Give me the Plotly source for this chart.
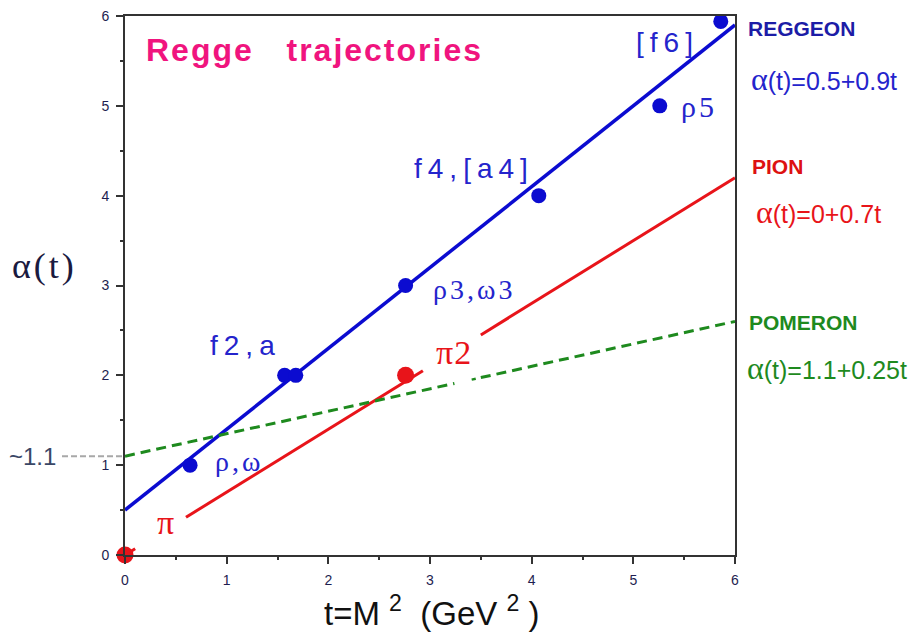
import plotly.graph_objects as go

# Regge trajectories alpha(t) = intercept + slope * t
reggeon = dict(intercept=0.5, slope=0.9)
pion = dict(intercept=0.0, slope=0.7)
pomeron = dict(intercept=1.1, slope=0.25)
t_range = [0.0, 6.0]

# pieces of each trajectory that are drawn (gaps leave room for labels)
pion_pieces = [(0.0, 0.1), (0.6, 2.93), (3.5, 6.0)]
pomeron_pieces = [(0.0, 3.24), (3.5, 6.0)]

# resonances on the Reggeon trajectory
reggeon_m2 = [0.64, 1.57, 1.68, 2.76, 4.07, 5.26, 5.86]
reggeon_spin = [1, 2, 2, 3, 4, 5, 5.94]
# resonances on the pion trajectory
pion_m2 = [0.0, 2.76]
pion_spin = [0, 2]

# particle names: (text, t, alpha)
reggeon_names = [
    ("ρ,ω", 1.12, 1.04),
    ("f2,a", 1.19, 2.33),
    ("ρ3,ω3", 3.43, 2.96),
    ("f4,[a4]", 3.43, 4.30),
    ("ρ5", 5.65, 4.99),
    ("[f6]", 5.34, 5.70),
]
pion_names = [("π", 0.40, 0.36), ("π2", 3.24, 2.25)]

BLUE = "#0b0bd0"
LBLUE = "#2424cc"
NAVY = "#1c1ca6"
RED = "#e8141a"
GREEN = "#1e8a1e"
PINK = "#f0147e"
TICK = "#1e1e50"

SANS = "Arial, Liberation Sans, sans-serif"
SERIF = "Times New Roman, Liberation Serif, serif"


def line_xy(p, pieces):
    xs, ys = [], []
    for a, b in pieces:
        xs += [a, b, None]
        ys += [p["intercept"] + p["slope"] * a, p["intercept"] + p["slope"] * b, None]
    return xs, ys


fig = go.Figure()

x, y = line_xy(reggeon, [tuple(t_range)])
fig.add_trace(go.Scatter(x=x, y=y, mode="lines", line=dict(color=BLUE, width=3.5)))
x, y = line_xy(pion, pion_pieces)
fig.add_trace(go.Scatter(x=x, y=y, mode="lines", line=dict(color=RED, width=3)))
x, y = line_xy(pomeron, pomeron_pieces)
fig.add_trace(go.Scatter(x=x, y=y, mode="lines",
                         line=dict(color=GREEN, width=3, dash="10px,6px")))
# small dot left in the pomeron gap
fig.add_trace(go.Scatter(x=[3.41, 3.45],
                         y=[pomeron["intercept"] + pomeron["slope"] * v for v in (3.41, 3.45)],
                         mode="lines", line=dict(color=GREEN, width=2.5)))

fig.add_trace(go.Scatter(x=reggeon_m2, y=reggeon_spin, mode="markers", cliponaxis=False,
                         marker=dict(color=BLUE, size=15)))
fig.add_trace(go.Scatter(x=pion_m2, y=pion_spin, mode="markers", cliponaxis=False,
                         marker=dict(color=RED, size=17)))

ann = []


def label(text, t, a, color, size, family, spacing=0):
    if spacing:
        text = f"<span style='letter-spacing:{spacing}px'>{text}</span>"
    ann.append(dict(x=t, y=a, xref="x", yref="y", text=text, showarrow=False,
                    xanchor="center", yanchor="middle",
                    font=dict(color=color, size=size, family=family)))


for name, t, a in reggeon_names:
    if name.startswith("ρ"):
        size = 30 if name == "ρ5" else 28
        label(name, t, a, LBLUE, size, SERIF, 3)
    else:
        label(name, t, a, LBLUE, 28, SANS, 6)
for name, t, a in pion_names:
    label(name, t, a, RED, 34, SERIF, 1)

# chart heading
ann.append(dict(x=1.86, y=5.62, xref="x", yref="y", showarrow=False,
                xanchor="center", yanchor="middle",
                text="<b><span style='letter-spacing:2px'>Regge   trajectories</span></b>",
                font=dict(color=PINK, size=32, family=SANS)))


def formula(p):
    return (f"<span style='font-family:Liberation Serif;font-size:32px'>α</span>"
            f"(t)={p['intercept']:g}+{p['slope']:g}t")


side = [
    ("REGGEON", 21, NAVY, True, 746),
    (formula(reggeon), 72, LBLUE, False, 749),
    ("PION", 161, "#dd1111", True, 750),
    (formula(pion), 207, RED, False, 754),
    ("POMERON", 319, GREEN, True, 747),
    (formula(pomeron), 365, GREEN, False, 745),
]
for text, py, color, bold, px in side:
    ann.append(dict(x=(px - 125) / 610, y=(555 - py) / 547, xref="paper", yref="paper",
                    xanchor="left", yanchor="middle", showarrow=False,
                    text=f"<b>{text}</b>" if bold else text,
                    font=dict(color=color, size=21 if bold else 25, family=SANS)))

# axis titles
ann.append(dict(x=(44 - 125) / 610, y=(555 - 262) / 547, xref="paper", yref="paper",
                xanchor="center", yanchor="middle", showarrow=False,
                text="<span style='letter-spacing:3px'>α(t)</span>",
                font=dict(color="#1a1a40", size=36, family=SERIF)))
ann.append(dict(x=(432 - 125) / 610, y=(555 - 612) / 547, xref="paper", yref="paper",
                xanchor="center", yanchor="middle", showarrow=False,
                text="t=M <sup>2</sup>  (GeV <sup>2</sup> )",
                font=dict(color="#111111", size=33, family=SANS)))
# pomeron intercept marker
ann.append(dict(x=(32 - 125) / 610, y=pomeron["intercept"], xref="paper", yref="y",
                xanchor="center", yanchor="middle",
                showarrow=False, text="~1.1",
                font=dict(color="#3a4766", size=24, family=SANS)))

fig.add_shape(type="line", xref="paper", yref="y", x0=(62 - 125) / 610, x1=0,
              y0=pomeron["intercept"], y1=pomeron["intercept"],
              line=dict(color="#a8a8a8", width=2, dash="6px,3px"))

axis_common = dict(range=t_range, showgrid=False, zeroline=False, showline=True,
                   linecolor="#333333", linewidth=2, mirror=True,
                   ticks="outside", ticklen=7, tickwidth=2, tickcolor="#333333",
                   dtick=1, tick0=0, ticklabelstandoff=4,
                   minor=dict(ticks="outside", ticklen=3, dtick=0.5, tickcolor="#333333",
                              tickwidth=2),
                   tickfont=dict(color=TICK, size=14, family=SANS))

fig.update_layout(
    width=919, height=644,
    margin=dict(l=125, r=184, t=8, b=89),
    paper_bgcolor="white", plot_bgcolor="white",
    showlegend=False,
    annotations=ann,
    xaxis=axis_common,
    yaxis=dict(axis_common, range=[0, 6]),
)

fig.write_html("out.html")
